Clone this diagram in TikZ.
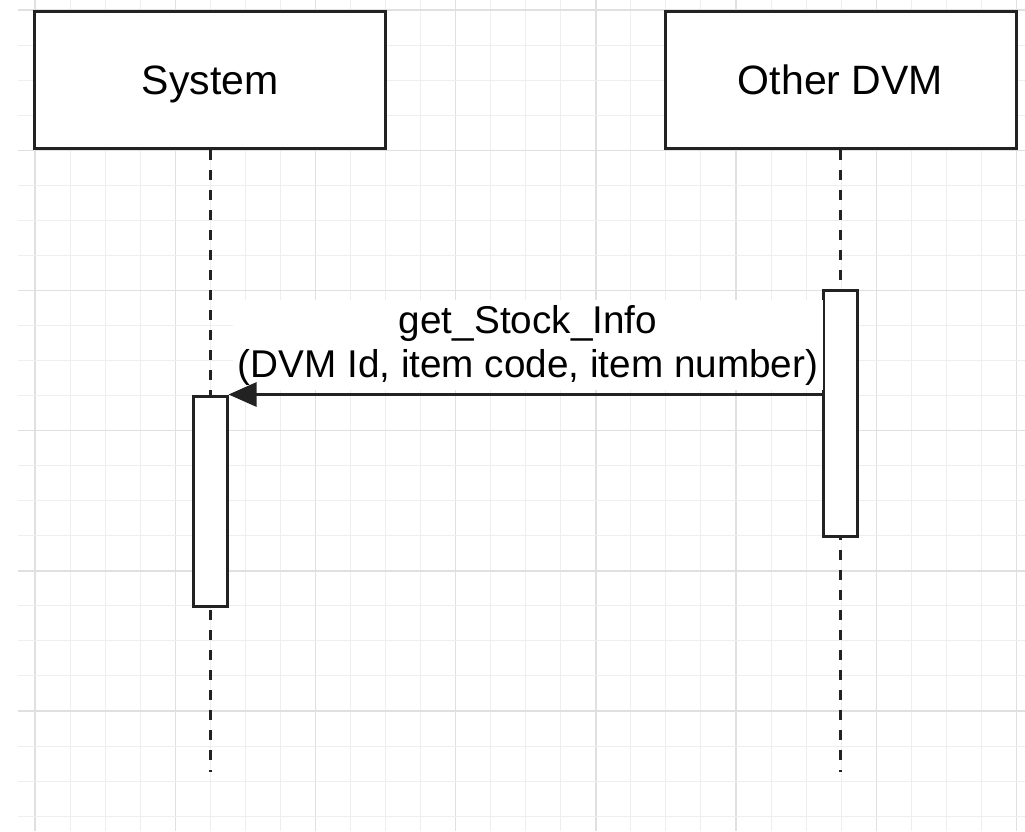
\documentclass[tikz,border=0pt]{standalone}
\usepackage{fontspec}
\setmainfont{Liberation Sans}
\usetikzlibrary{arrows.meta}

\definecolor{gridminor}{HTML}{EEEEEE}
\definecolor{gridmajor}{HTML}{E0E0E0}
\definecolor{inkdark}{HTML}{222222}

\tikzset{
  headbox/.style={draw=inkdark, line width=3pt, fill=white, inner sep=0pt,
    minimum width=351pt, minimum height=137pt, text height=29pt, text depth=0pt,
    font=\fontsize{41}{48}\selectfont},
  actbox/.style={draw=inkdark, line width=3pt, fill=white, inner sep=0pt,
    minimum width=34pt},
  lifeline/.style={draw=inkdark, line width=3pt, dash pattern=on 10pt off 10pt},
  msgarrow/.style={draw=inkdark, line width=3pt, -{Triangle[length=28pt,width=24pt]}},
  msglabel/.style={fill=white, inner sep=5pt, align=center,
    font=\fontsize{38.7}{44}\selectfont},
}

\begin{document}
\begin{tikzpicture}[x=1pt,y=-1pt]
    \useasboundingbox (0,0) rectangle (1025,831);
    \def\gstep{35.05}

    % Background grid
    \foreach \k in {0,...,28} {
      \pgfmathsetmacro{\gx}{35+\k*\gstep}
      \pgfmathtruncatemacro{\gm}{mod(\k,4)}
      \ifnum\gm=0
        \draw[gridmajor, line width=1.4pt] (\gx,0) -- (\gx,831);
      \else
        \draw[gridminor, line width=1pt] (\gx,0) -- (\gx,831);
      \fi
    }
    \foreach \k in {0,...,23} {
      \pgfmathsetmacro{\gy}{10+\k*\gstep}
      \pgfmathtruncatemacro{\gm}{mod(\k,4)}
      \ifnum\gm=0
        \draw[gridmajor, line width=1.4pt] (18,\gy) -- (1025,\gy);
      \else
        \draw[gridminor, line width=1pt] (18,\gy) -- (1025,\gy);
      \fi
    }

    % Participants
    \node[headbox] (system) at (210,80) {System};
    \node[headbox] (otherdvm) at (840.5,80) {Other DVM};

    % Lifelines
    \coordinate (systemend) at (210,772);
    \coordinate (otherend) at (840.5,772);
    \draw[lifeline] (system.south) -- (systemend);
    \draw[lifeline] (otherdvm.south) -- (otherend);

    % Activation bars
    \node[actbox, minimum height=210pt] (systemact) at (210,501) {};
    \node[actbox, minimum height=246pt] (otheract) at (840.5,413) {};

    % Message
    \node[msglabel] (msgtext) at (528,345) {get\_Stock\_Info\\(DVM Id, item code, item number)};
    \draw[msgarrow] (otheract.west |- systemact.north east) -- (systemact.north east);
\end{tikzpicture}
\end{document}
